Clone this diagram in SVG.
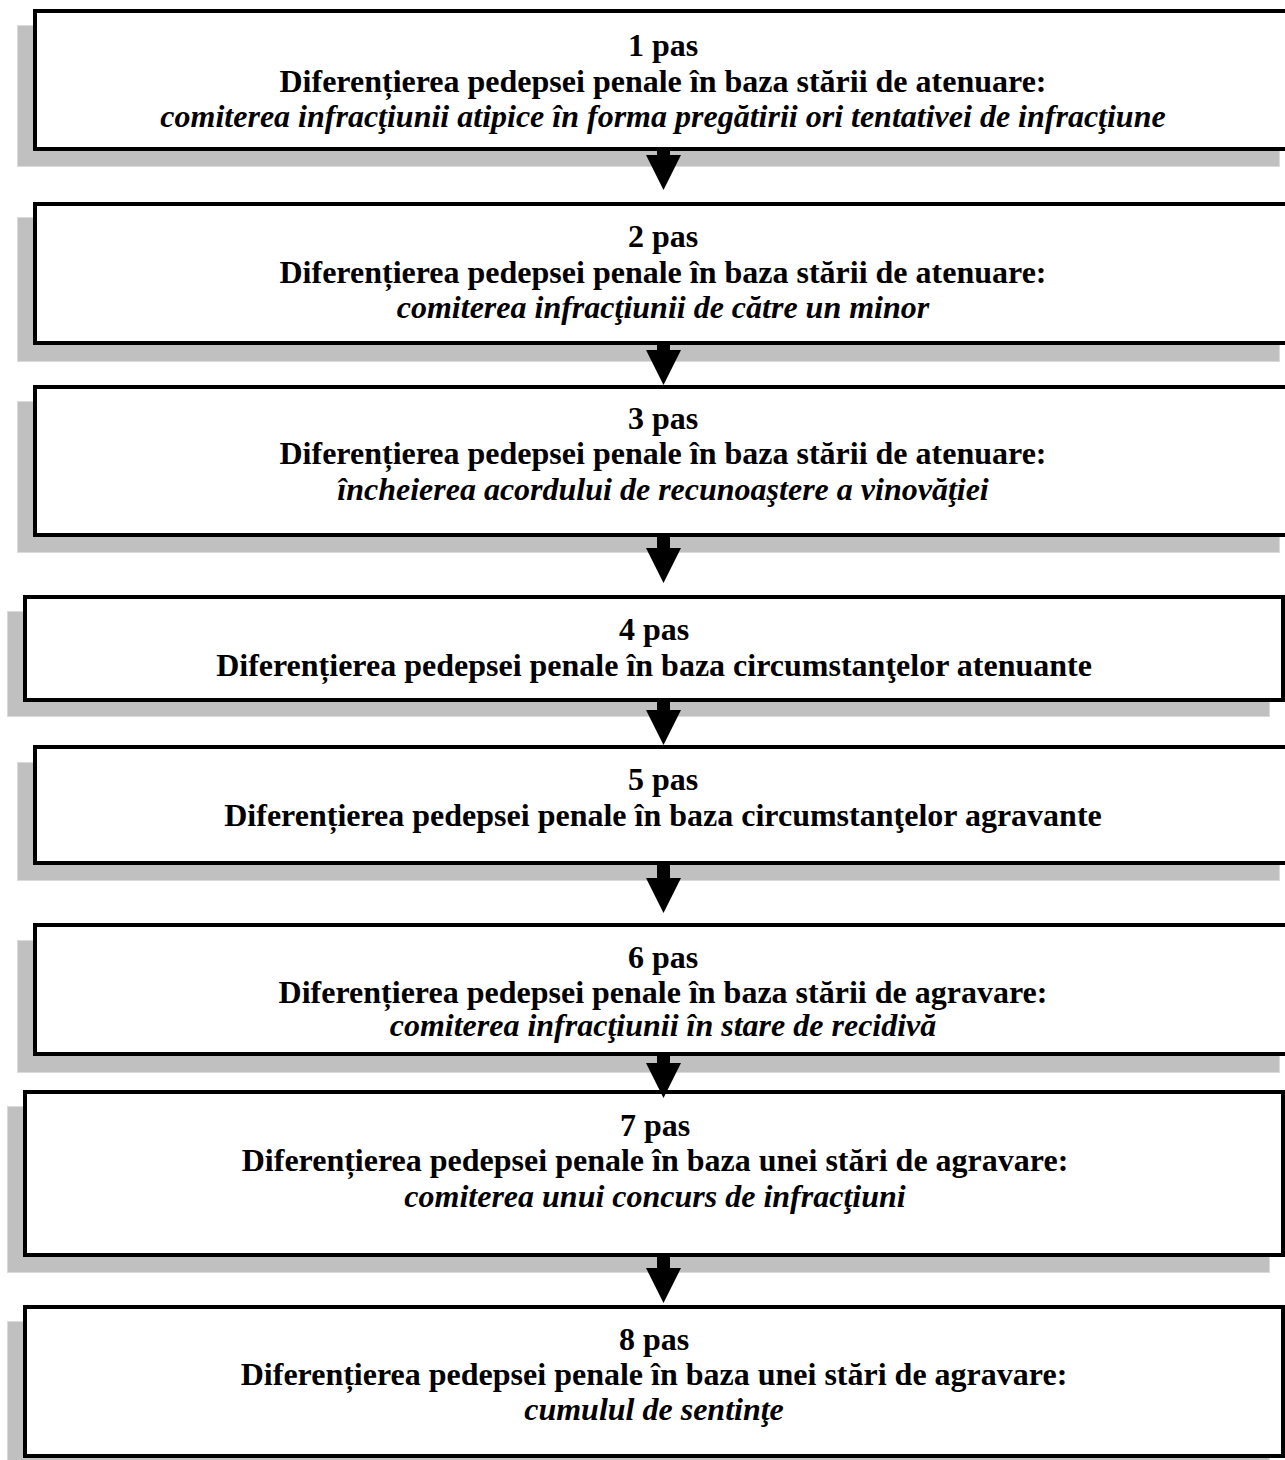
<svg xmlns="http://www.w3.org/2000/svg" width="1285" height="1460" viewBox="0 0 1285 1460">
<style>
.sh{fill:#c0c0c0;stroke:#dadada;stroke-width:1}
.bx{fill:#fff;stroke:#000;stroke-width:4}
text{font-family:"Liberation Serif","Times New Roman",serif;font-size:32px;font-weight:bold;fill:#000;text-anchor:middle}
.it{font-style:italic}
.ar{fill:#000}
</style>
<rect x="0" y="0" width="1285" height="1460" fill="#fff"/>
<g id="node1">
<rect class="sh" x="17.5" y="25.5" width="1262" height="141"/>
<rect class="bx" x="35" y="11" width="1260" height="138"/>
<text x="663" y="56">1 pas</text>
<text x="663" y="92">Diferențierea pedepsei penale în baza stării de atenuare:</text>
<text class="it" x="663" y="127">comiterea infracţiunii atipice în forma pregătirii ori tentativei de infracţiune</text>
</g>
<g id="node2">
<rect class="sh" x="17.5" y="217.5" width="1262" height="144"/>
<rect class="bx" x="35" y="204" width="1260" height="139"/>
<text x="663" y="247">2 pas</text>
<text x="663" y="283">Diferențierea pedepsei penale în baza stării de atenuare:</text>
<text class="it" x="663" y="318">comiterea infracţiunii de către un minor</text>
</g>
<g id="node3">
<rect class="sh" x="17.5" y="401.5" width="1262" height="151"/>
<rect class="bx" x="35" y="387" width="1260" height="148"/>
<text x="663" y="429">3 pas</text>
<text x="663" y="464">Diferențierea pedepsei penale în baza stării de atenuare:</text>
<text class="it" x="663" y="500">încheierea acordului de recunoaştere a vinovăţiei</text>
</g>
<g id="node4">
<rect class="sh" x="7.5" y="611.5" width="1262" height="105"/>
<rect class="bx" x="25" y="597" width="1258" height="103"/>
<text x="654" y="640">4 pas</text>
<text x="654" y="676">Diferențierea pedepsei penale în baza circumstanţelor atenuante</text>
</g>
<g id="node5">
<rect class="sh" x="17.5" y="762.5" width="1262" height="118"/>
<rect class="bx" x="35" y="747" width="1260" height="116"/>
<text x="663" y="790">5 pas</text>
<text x="663" y="826">Diferențierea pedepsei penale în baza circumstanţelor agravante</text>
</g>
<g id="node6">
<rect class="sh" x="17.5" y="940.5" width="1262" height="132"/>
<rect class="bx" x="35" y="925" width="1260" height="129"/>
<text x="663" y="968">6 pas</text>
<text x="663" y="1003">Diferențierea pedepsei penale în baza stării de agravare:</text>
<text class="it" x="663" y="1036">comiterea infracţiunii în stare de recidivă</text>
</g>
<g id="node7">
<rect class="sh" x="7.5" y="1106.5" width="1262" height="166"/>
<rect class="bx" x="25" y="1092" width="1258" height="163"/>
<text x="655" y="1136">7 pas</text>
<text x="655" y="1171">Diferențierea pedepsei penale în baza unei stări de agravare:</text>
<text class="it" x="655" y="1207">comiterea unui concurs de infracţiuni</text>
</g>
<g id="node8">
<rect class="sh" x="7.5" y="1321.5" width="1262" height="160"/>
<rect class="bx" x="25" y="1307" width="1258" height="149"/>
<text x="654" y="1350">8 pas</text>
<text x="654" y="1385">Diferențierea pedepsei penale în baza unei stări de agravare:</text>
<text class="it" x="654" y="1420">cumulul de sentinţe</text>
</g>
<g id="connectors">
<path class="ar" d="M657,151 H670 V155 H681 L663.5,190 L646,155 H657 Z"/>
<path class="ar" d="M657,345 H670 V350 H681 L663.5,385 L646,350 H657 Z"/>
<path class="ar" d="M657,537 H670 V548 H681 L663.5,583 L646,548 H657 Z"/>
<path class="ar" d="M657,702 H670 V710 H681 L663.5,745 L646,710 H657 Z"/>
<path class="ar" d="M657,865 H670 V878 H681 L663.5,913 L646,878 H657 Z"/>
<path class="ar" d="M657,1056 H670 V1063 H681 L663.5,1098 L646,1063 H657 Z"/>
<path class="ar" d="M657,1257 H670 V1268 H681 L663.5,1303 L646,1268 H657 Z"/>
</g>
</svg>
